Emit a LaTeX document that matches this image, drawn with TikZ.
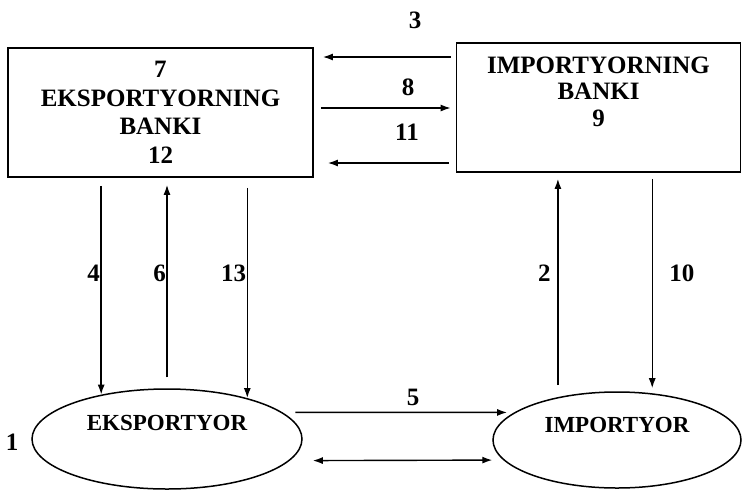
\documentclass[tikz,border=0pt]{standalone}
\usepackage{fontspec}
\setmainfont{Liberation Serif}
\usetikzlibrary{arrows.meta,shapes.geometric}

\begin{document}
\begin{tikzpicture}[x=1pt,y=-1pt,
  bank/.style={draw, line width=1.7pt, rectangle, inner sep=0pt},
  party/.style={draw, line width=1.5pt, ellipse, inner sep=0pt},
  txt/.style={font=\bfseries\fontsize{25}{28.5}\selectfont, align=center, inner sep=0pt},
  num/.style={font=\bfseries\fontsize{25}{28}\selectfont, inner sep=1pt},
  flow/.style={-{Latex[length=10pt,width=7pt]}, line width=1.4pt},
  both/.style={{Latex[length=10pt,width=7pt]}-{Latex[length=10pt,width=7pt]}, line width=1.4pt}]
  \useasboundingbox (0,0) rectangle (742,491);
  \node[bank, txt, minimum width=305pt, minimum height=129pt] (ebank) at (160.5,112.5) {7\\EKSPORTYORNING\\BANKI\\12};
  \node[bank, minimum width=284pt, minimum height=129pt] (ibank) at (598.5,107.5) {};
  \node[txt, font=\bfseries\fontsize{25}{26.5}\selectfont] (ibanktxt) at ([yshift=16pt]ibank.center) {IMPORTYORNING\\BANKI\\9};
  \node[party, minimum width=270pt, minimum height=100pt] (exp) at (167,439) {};
  \node[txt, font=\bfseries\fontsize{23}{26}\selectfont] (exptxt) at ([yshift=16pt]exp.center) {EKSPORTYOR};
  \node[party, minimum width=248pt, minimum height=96pt] (imp) at (617,440) {};
  \node[txt, font=\bfseries\fontsize{23}{26}\selectfont] (imptxt) at ([yshift=15pt]imp.center) {IMPORTYOR};

  \draw[flow, shorten <=5pt, shorten >=9pt] (ibank.west |- 0,57) -- (ebank.east |- 0,57);
  \draw[flow, shorten <=7pt, shorten >=5pt] (ebank.east |- 0,108) -- (ibank.west |- 0,108);
  \draw[flow, shorten <=7pt, shorten >=14pt] (ibank.west |- 0,163) -- (ebank.east |- 0,163);

  \draw[flow, shorten <=8pt] (ebank.south -| exp.146) -- (exp.146);
  \draw[flow, shorten <=11pt, shorten >=7pt] (exp.north) -- (exp.north |- ebank.south);
  \draw[flow, shorten <=10pt] (ebank.south -| exp.27) -- (exp.27);
  \draw[flow, shorten <=12pt, shorten >=6pt] (imp.144) -- (imp.144 |- ibank.south);
  \draw[flow, shorten <=6pt, shorten >=5pt] (ibank.south -| imp.53) -- (imp.53);

  \draw[flow, shorten <=13pt, shorten >=7pt] (exp.13) -- (imp.165);
  \draw[both, shorten <=23pt, shorten >=11pt] (exp.-10) -- (imp.190);

  \node[num] (n3) at (415,20) {3};
  \node[num] (n8) at (408,87) {8};
  \node[num] (n11) at (407,132) {11};
  \node[num, anchor=east] (n4) at (exp.146 |- 0,273) {4};
  \node[num, anchor=east] (n6) at (exp.north |- 0,273) {6};
  \node[num, anchor=east] (n13) at (exp.27 |- 0,273) {13};
  \node[num, anchor=east, xshift=-6pt] (n2) at (imp.144 |- 0,273) {2};
  \node[num, anchor=west, xshift=16pt] (n10) at (imp.53 |- 0,273) {10};
  \node[num] (n5) at (413,397) {5};
  \node[num] (n1) at (12,442) {1};
\end{tikzpicture}
\end{document}
